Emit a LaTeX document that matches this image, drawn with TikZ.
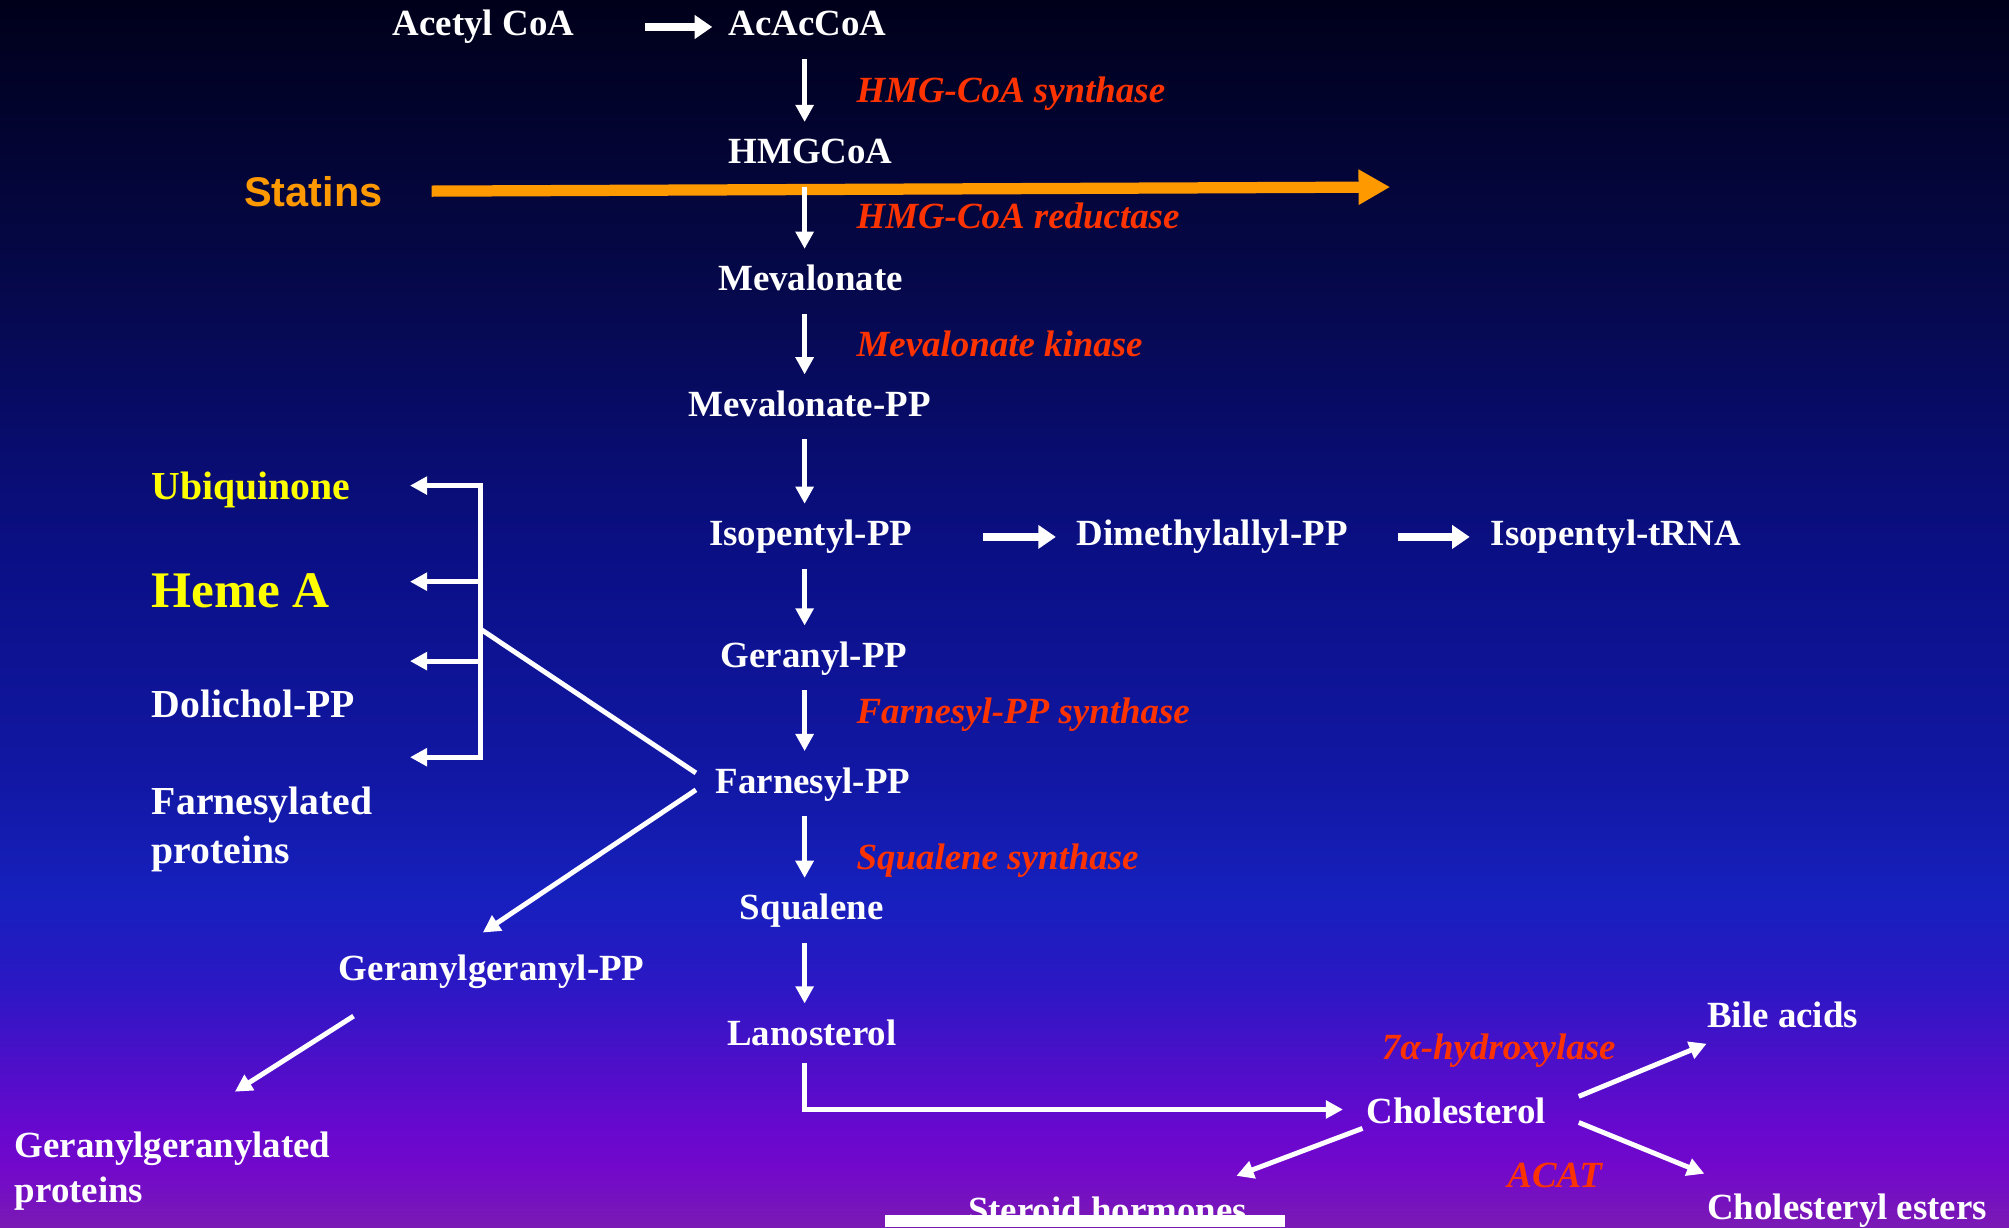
\documentclass[tikz,border=0pt]{standalone}
\usepackage{fontspec}
\setmainfont{Liberation Serif}
\setsansfont{Liberation Sans}
\usetikzlibrary{arrows.meta}

\definecolor{enzred}{RGB}{255,51,0}
\definecolor{statorange}{RGB}{255,153,0}
\definecolor{hiyellow}{RGB}{255,255,0}
\definecolor{bg0}{HTML}{7A1AB4}
\definecolor{bg1}{HTML}{7208CC}
\definecolor{bg2}{HTML}{6808CE}
\definecolor{bg3}{HTML}{4A10C8}
\definecolor{bg4}{HTML}{2A18C4}
\definecolor{bg5}{HTML}{1620BD}
\definecolor{bg6}{HTML}{1218A5}
\definecolor{bg7}{HTML}{0A0F85}
\definecolor{bg8}{HTML}{06094F}
\definecolor{bg9}{HTML}{00001A}

\tikzset{
  met/.style={anchor=base west, inner sep=0pt, text=white,
    font=\fontsize{10.5pt}{12.6pt}\selectfont\bfseries,
    text height=7.35pt, text depth=2.3pt},
  side/.style={met, font=\fontsize{11.3pt}{13.8pt}\selectfont\bfseries},
  enz/.style={met, text=enzred, font=\fontsize{10.5pt}{12.6pt}\selectfont\bfseries\itshape},
  twoline/.style={anchor=north west, inner sep=0pt, text=white, align=left},
  statin/.style={anchor=base west, inner sep=0pt, text=statorange,
    font=\fontsize{11.8pt}{14pt}\selectfont\sffamily\bfseries,
    text height=8.5pt, text depth=0pt},
  wline/.style={draw=white, line width=1.4pt},
  flow/.style={wline, -{Triangle[length=4.9pt,width=5pt]}},
  hflow/.style={draw=white, line width=2.2pt, -{Triangle[length=5pt,width=6.5pt]}},
  blockarrow/.style={draw=statorange, line width=3.2pt, -{Triangle[length=9pt,width=9.5pt]}}
}

\begin{document}
\begin{tikzpicture}[x=0.12813mm, y=-0.12813mm]
\useasboundingbox (0,0) rectangle (1568,958);

% background
\shade[top color=bg9, bottom color=bg8] (0,0) rectangle (1568,241);
\shade[top color=bg8, bottom color=bg7] (0,240) rectangle (1568,432);
\shade[top color=bg7, bottom color=bg6] (0,431) rectangle (1568,614);
\shade[top color=bg6, bottom color=bg5] (0,613) rectangle (1568,700);
\shade[top color=bg5, bottom color=bg4] (0,699) rectangle (1568,767);
\shade[top color=bg4, bottom color=bg3] (0,766) rectangle (1568,825);
\shade[top color=bg3, bottom color=bg2] (0,824) rectangle (1568,882);
\shade[top color=bg2, bottom color=bg1] (0,881) rectangle (1568,911);
\shade[top color=bg1, bottom color=bg0] (0,910) rectangle (1568,958);

% main pathway
\node[met] (acetyl) at (306,28) {Acetyl CoA};
\node[met] (acac) at (568,28) {AcAcCoA};
\node[enz] (hmgs) at (668,80) {HMG-CoA synthase};
\node[met] (hmg) at (568,128) {HMGCoA};
\node[statin] (statins) at (190,161) {Statins};
\node[enz] (hmgr) at (668,178) {HMG-CoA reductase};
\node[met] (meva) at (560,227) {Mevalonate};
\node[enz] (mvk) at (668,278) {Mevalonate kinase};
\node[met] (mvpp) at (537,325) {Mevalonate-PP};
\node[met] (ipp) at (553,426) {Isopentyl-PP};
\node[met] (dmapp) at (840,426) {Dimethylallyl-PP};
\node[met] (trna) at (1163,426) {Isopentyl-tRNA};
\node[met] (gpp) at (562,521) {Geranyl-PP};
\node[enz] (fpps) at (668,565) {Farnesyl-PP synthase};
\node[met] (fpp) at (558,619) {Farnesyl-PP};
\node[enz] (sqs) at (668,679) {Squalene synthase};
\node[met] (squal) at (577,718) {Squalene};
\node[met] (lano) at (567,816) {Lanosterol};
\node[enz] (hydrox) at (1078,827) {7α-hydroxylase};
\node[met] (bile) at (1332,802) {Bile acids};
\node[met] (chol) at (1066,877) {Cholesterol};
\node[enz] (acat) at (1176,927) {ACAT};
\node[met] (esters) at (1332,952) {Cholesteryl esters};
\node[met] (steroid) at (755,954) {Steroid hormones};

% side branches
\node[side, text=hiyellow] (ubq) at (118,390) {Ubiquinone};
\node[side, text=hiyellow, font=\fontsize{14.6pt}{17pt}\selectfont\bfseries] (heme) at (118,474) {Heme A};
\node[side] (doli) at (118,560) {Dolichol-PP};
\node[twoline, font=\fontsize{11.3pt}{13.8pt}\selectfont\bfseries] (farnprot) at (118,614) {Farnesylated\\proteins};
\node[met] (ggpp) at (264,765) {Geranylgeranyl-PP};
\node[twoline, font=\fontsize{10.5pt}{12.7pt}\selectfont\bfseries] (ggprot) at (11,883) {Geranylgeranylated\\proteins};

\coordinate (spine) at (628,0);
\coordinate (stop) at (1085,146);
\coordinate (bk) at (375,491);
\coordinate (t1) at (320,379);
\coordinate (t2) at (320,454);
\coordinate (t3) at (320,516);
\coordinate (t4) at (320,591);

\draw[blockarrow, shorten <=13.8pt] (statins.east) -- (stop);

\draw[hflow, shorten <=20pt, shorten >=4.4pt] (acetyl.east) -- (acac.west);
\foreach \a/\b in {acac/hmg, hmg/meva, meva/mvpp, mvpp/ipp, ipp/gpp, gpp/fpp, fpp/squal, squal/lano}
  \draw[flow, shorten <=4pt, shorten >=4.4pt] (\a.south -| spine) -- (\b.north -| spine);
\draw[hflow, shorten <=20pt, shorten >=5.8pt] (ipp.east) -- (dmapp.west);
\draw[hflow, shorten <=14.2pt, shorten >=5.8pt] (dmapp.east) -- (trna.west);

\draw[flow, shorten <=2.4pt, shorten >=6.5pt] (lano.south -| spine) |- ([yshift=1.5pt]chol.west);
\draw[flow, shorten <=9.8pt] ([yshift=1.5pt]chol.east) -- ([yshift=-2.1pt]bile.south west);
\draw[flow, shorten <=9.8pt, shorten >=0.7pt] ([yshift=1.5pt]chol.east) -- ([yshift=5.3pt]esters.north west);
\draw[flow, shorten <=1pt, shorten >=-3.5pt] ([yshift=1.5pt]chol.south west) -- ([yshift=6.9pt]steroid.north east);

\draw[flow] (bk) |- (t1);
\draw[flow] (bk) |- (t4);
\draw[flow] (t2 -| bk) -- (t2);
\draw[flow] (t3 -| bk) -- (t3);
\draw[wline, shorten >=6.5pt] (bk) -- ([yshift=-0.4pt]fpp.west);
\draw[flow, shorten <=6.5pt] ([yshift=2pt]fpp.west) -- ([xshift=-2.5pt,yshift=6pt]ggpp.north);
\draw[flow, shorten <=14.4pt, shorten >=21pt] ([xshift=16.5pt]ggpp.south west) -- (ggprot.north);

\fill[white] (691,948) rectangle (1003,958);
\end{tikzpicture}
\end{document}
